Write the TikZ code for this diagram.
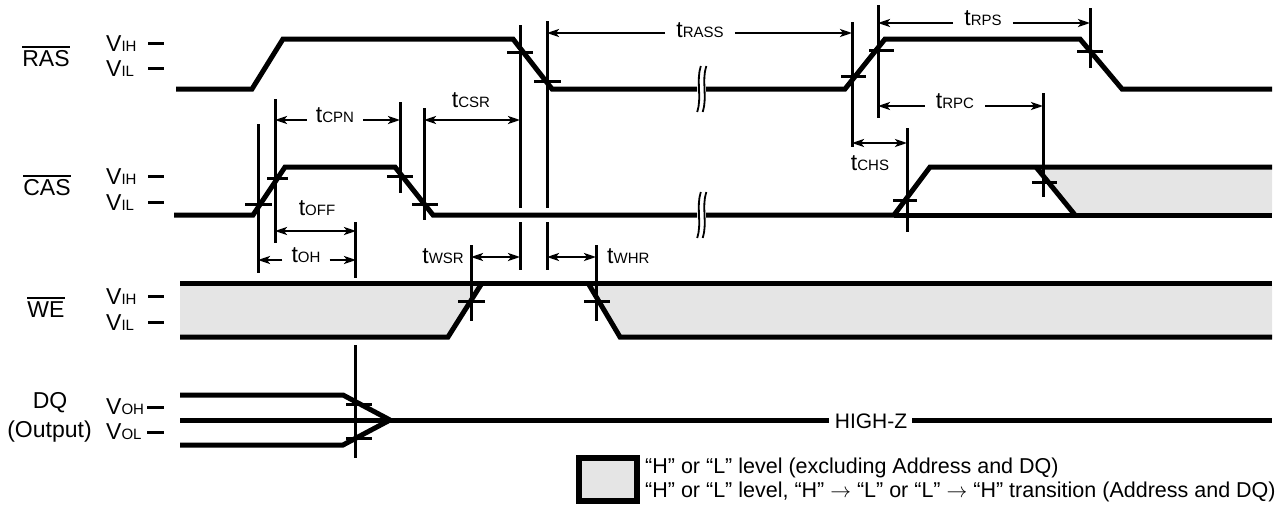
\documentclass[tikz,border=0pt]{standalone}
\usepackage{fontspec}
\setmainfont{Liberation Sans}
\usetikzlibrary{arrows.meta}
\definecolor{lgray}{RGB}{229,229,229}
\newcommand{\tlab}[1]{t{\fontsize{15}{15}\selectfont #1}}
\newcommand{\vlab}[1]{V{\fontsize{15}{15}\selectfont #1}}
\newcommand{\olab}[1]{\setbox0\hbox{#1}\rlap{\rule[18.3pt]{\wd0}{1.8pt}}\box0}
\begin{document}
\begin{tikzpicture}[x=1pt,y=-1pt,
  sig/.style={line width=5pt},
  mk/.style={line width=3pt},
  brk/.style={line width=1.8pt},
  dim/.style={line width=2.2pt},
  arr/.style={dim,-{Stealth[length=12pt,width=8pt,inset=3pt]}},
  darr/.style={dim,{Stealth[length=12pt,width=8pt,inset=3pt]}-{Stealth[length=12pt,width=8pt,inset=3pt]}},
  every node/.style={inner sep=0pt,font=\fontsize{23}{27}\selectfont},
  gaplab/.style={anchor=base,inner xsep=9pt},
  leg/.style={anchor=west,font=\fontsize{21.5}{24}\selectfont}]
\useasboundingbox (0,0) rectangle (1282,506);

% ---------- signal names ----------
\node[anchor=base] (ras) at (46,66) {\olab{RAS}};
\node[anchor=base] (cas) at (47,195) {\olab{CAS}};
\node[anchor=base] (we) at (46,317) {\olab{WE}};
\node[anchor=base] (dq) at (50,408) {DQ};
\node[anchor=base] (out) at (49.5,437) {(Output)};

% ---------- level labels ----------
\node[anchor=base west] (rih) at (106,51) {\vlab{IH}};
\node[anchor=base west] (ril) at (106,76) {\vlab{IL}};
\node[anchor=base west] (cih) at (106,184) {\vlab{IH}};
\node[anchor=base west] (cil) at (106,210) {\vlab{IL}};
\node[anchor=base west] (wih) at (106,304) {\vlab{IH}};
\node[anchor=base west] (wil) at (106,330) {\vlab{IL}};
\node[anchor=base west] (doh) at (106,414) {\vlab{OH}};
\node[anchor=base west] (dol) at (106,439) {\vlab{OL}};
\foreach \y in {43,68,176,202,296,322}{\draw[mk] (148,\y) -- (164,\y);}
\foreach \y in {407,432}{\draw[mk] (147,\y) -- (164,\y);}

% ---------- shaded areas ----------
\fill[lgray] (1036,167) -- (1272,167) -- (1272,215) -- (1075,215) -- cycle;
\fill[lgray] (180,283) -- (482,283) -- (448,337) -- (180,337) -- cycle;
\fill[lgray] (588,283) -- (1272,283) -- (1272,337) -- (620,337) -- cycle;

% ---------- RAS ----------
\draw[sig] (176,89) -- (252,89) -- (283,39) -- (513,39) -- (552,89) -- (697,89);
\draw[sig] (706,89) -- (845,89) -- (885,39) -- (1080,39) -- (1122,89) -- (1272,89);
% ---------- CAS ----------
\draw[sig] (174,215) -- (253,215) -- (285,167) -- (395,167) -- (433,215) -- (697,215);
\draw[sig] (706,215) -- (894,215) -- (930,167) -- (1272,167);
\draw[sig] (894,215) -- (1272,215);
\draw[sig] (1036,167) -- (1075,215);
% ---------- WE ----------
\draw[sig] (180,283) -- (1272,283);
\draw[sig] (180,337) -- (448,337) -- (482,283);
\draw[sig] (588,283) -- (620,337) -- (1272,337);
% ---------- DQ ----------
\draw[sig] (180,395) -- (343,395) -- (390,420);
\draw[sig] (180,445) -- (343,445) -- (390,420);
\node (hz) at (871,421) {\fontsize{21}{24}\selectfont HIGH-Z};
\coordinate (dqL) at (180,420);
\coordinate (dqR) at (1272,420);
\draw[sig] (dqL) -- (829,420);
\draw[sig] (912,420) -- (dqR);

% ---------- breaks ----------
\foreach \y in {89,215}{
  \foreach \x in {699,704.5}{
    \draw[brk] (\x+1.8,\y-23) .. controls (\x-3,\y-9) and (\x+3,\y+9) .. (\x-1.8,\y+23);
  }
}

% ---------- vertical reference lines ----------
\draw[mk] (258,124) -- (258,273);
\draw[mk] (275,99) -- (275,243);
\draw[mk] (400,102) -- (400,193);
\draw[mk] (424,108) -- (424,220);
\draw[mk] (520,25) -- (520,208) (520,222) -- (520,270);
\draw[mk] (547,21) -- (547,208) (547,222) -- (547,270);
\draw[mk] (852,22) -- (852,147);
\draw[mk] (878,5) -- (878,118);
\draw[mk] (1090,8) -- (1090,68);
\draw[mk] (1043,93) -- (1043,197);
\draw[mk] (907,128) -- (907,232);
\draw[mk] (355,222) -- (355,278) (355,345) -- (355,458);
\draw[mk] (471,245) -- (471,321);
\draw[mk] (596,245) -- (596,321);

% ---------- crossing ticks ----------
\draw[mk] (245,204) -- (272,204);
\draw[mk] (267,178) -- (288,178);
\draw[mk] (387,176) -- (413,176);
\draw[mk] (412,204) -- (438,204);
\draw[mk] (507,52) -- (533,52);
\draw[mk] (534,81) -- (561,81);
\draw[mk] (841,76) -- (866,76);
\draw[mk] (869,50) -- (894,50);
\draw[mk] (1077,51) -- (1103,51);
\draw[mk] (1032,182) -- (1057,182);
\draw[mk] (893,200) -- (917,200);
\draw[mk] (458,301) -- (485,301);
\draw[mk] (584,301) -- (610,301);
\draw[mk] (346,404) -- (372,404);
\draw[mk] (346,438) -- (372,438);

% ---------- timing arrows ----------
\coordinate (cpnL) at (275,120); \coordinate (cpnR) at (400,120);
\node[gaplab] (cpn) at (335,122) {\tlab{CPN}};
\draw[arr] (cpn.west |- cpnL) -- (cpnL);
\draw[arr] (cpn.east |- cpnR) -- (cpnR);

\coordinate (csrL) at (424,120); \coordinate (csrR) at (520,120);
\node[anchor=base] (csr) at (471,107) {\tlab{CSR}};
\draw[darr] (csrL) -- (csrR);

\coordinate (rassL) at (547,33); \coordinate (rassR) at (852,33);
\node[gaplab,inner xsep=11pt] (rass) at (700,37) {\tlab{RASS}};
\draw[arr] (rass.west |- rassL) -- (rassL);
\draw[arr] (rass.east |- rassR) -- (rassR);

\coordinate (rpsL) at (878,23); \coordinate (rpsR) at (1090,23);
\node[gaplab,inner xsep=11pt] (rps) at (983,25) {\tlab{RPS}};
\draw[arr] (rps.west |- rpsL) -- (rpsL);
\draw[arr] (rps.east |- rpsR) -- (rpsR);

\coordinate (rpcL) at (878,106); \coordinate (rpcR) at (1043,106);
\node[gaplab,inner xsep=11pt] (rpc) at (955,108) {\tlab{RPC}};
\draw[arr] (rpc.west |- rpcL) -- (rpcL);
\draw[arr] (rpc.east |- rpcR) -- (rpcR);

\coordinate (chsL) at (852,143); \coordinate (chsR) at (907,143);
\node[anchor=base] (chs) at (870,170) {\tlab{CHS}};
\draw[darr] (chsL) -- (chsR);

\coordinate (offL) at (275,231); \coordinate (offR) at (356,231);
\node[anchor=base] (off) at (317,215) {\tlab{OFF}};
\draw[darr] (offL) -- (offR);

\coordinate (ohL) at (258,260); \coordinate (ohR) at (356,260);
\node[gaplab] (oh) at (306,262) {\tlab{OH}};
\draw[arr] (oh.west |- ohL) -- (ohL);
\draw[arr] (oh.east |- ohR) -- (ohR);

\coordinate (wsrL) at (471,257); \coordinate (wsrR) at (520,257);
\node[anchor=base east] (wsr) at (464,263) {\tlab{WSR}};
\draw[darr] (wsrL) -- (wsrR);

\coordinate (whrL) at (547,257); \coordinate (whrR) at (596,257);
\node[anchor=base west] (whr) at (607,263) {\tlab{WHR}};
\draw[darr] (whrL) -- (whrR);

% ---------- legend ----------
\node[draw,line width=6pt,fill=lgray,minimum width=58pt,minimum height=43pt] (box) at (608,479.5) {};
\node[leg] (l1) at (645,468) {“H” or “L” level (excluding Address and DQ)};
\node[leg] (l2) at (645,492) {“H” or “L” level, “H” $\rightarrow$ “L” or “L” $\rightarrow$ “H” transition (Address and DQ)};
\end{tikzpicture}
\end{document}
